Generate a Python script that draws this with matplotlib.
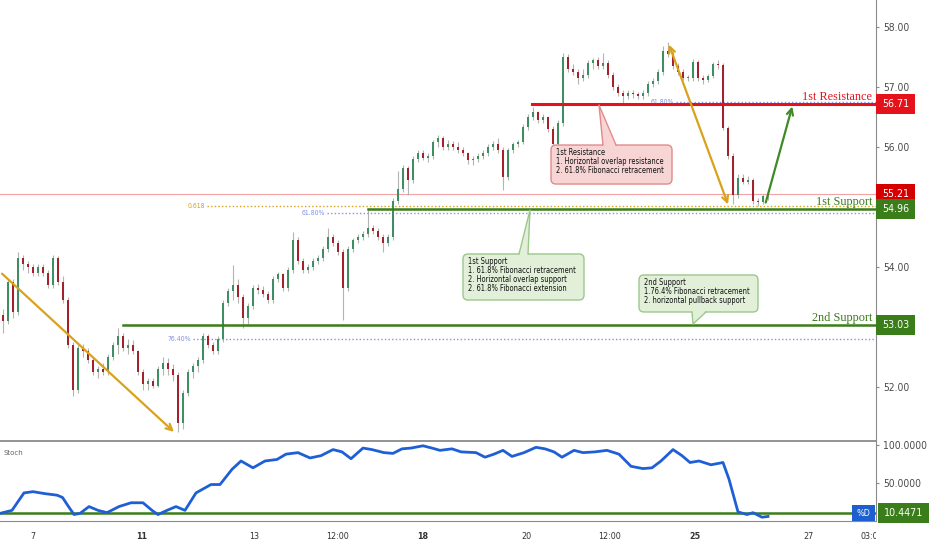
"""Hourly candles with support/resistance levels and a Stoch sub-panel.

Output: out.png (932x550)
"""

import numpy as np
import matplotlib

matplotlib.use("Agg")
import matplotlib.pyplot as plt
import matplotlib.font_manager as fm
from matplotlib.patches import Rectangle, FancyBboxPatch, Polygon
from matplotlib.transforms import Bbox, TransformedBbox

# ---- candles (one per slot, left to right) ----
opens = [53.20, 53.10, 53.75, 53.25, 54.15, 54.05, 54.00, 53.90, 54.00, 53.90,
         53.70, 54.15, 53.75, 53.45, 52.70, 51.95, 52.65, 52.60, 52.45, 52.25,
         52.30, 52.25, 52.50, 52.70, 52.85, 52.65, 52.70, 52.60, 52.25, 52.05,
         52.10, 52.02, 52.30, 52.40, 52.30, 52.20, 51.40, 51.90, 52.25, 52.35,
         52.45, 52.85, 52.70, 52.60, 52.80, 53.40, 53.60, 53.70, 53.50, 53.15,
         53.35, 53.65, 53.62, 53.55, 53.45, 53.80, 53.88, 53.65, 53.95, 54.45,
         54.10, 53.95, 54.00, 54.10, 54.15, 54.30, 54.50, 54.40, 54.25, 53.65,
         54.30, 54.45, 54.50, 54.55, 54.65, 54.60, 54.50, 54.40, 54.50, 55.10,
         55.30, 55.65, 55.45, 55.80, 55.90, 55.82, 55.85, 56.08, 56.15, 56.00,
         56.05, 56.00, 55.95, 55.90, 55.78, 55.80, 55.85, 55.90, 56.00, 56.05,
         55.95, 55.50, 55.95, 56.05, 56.08, 56.33, 56.50, 56.58, 56.45, 56.50,
         56.30, 56.05, 56.40, 57.50, 57.30, 57.25, 57.15, 57.20, 57.40, 57.45,
         57.35, 57.40, 57.20, 57.00, 56.90, 56.85, 56.90, 56.88, 56.85, 56.90,
         57.05, 57.10, 57.25, 57.60, 57.55, 57.35, 57.25, 57.15, 57.15, 57.42,
         57.15, 57.12, 57.18, 57.38, 57.37, 56.32, 55.85, 55.20, 55.48, 55.42,
         55.45, 55.10, 55.08, 55.18]
highs = [53.30, 53.80, 53.80, 54.25, 54.20, 54.10, 54.05, 54.05, 54.05, 53.95,
         54.20, 54.18, 53.85, 53.50, 52.75, 52.70, 52.72, 52.65, 52.50, 52.35,
         52.40, 52.55, 52.75, 52.98, 52.90, 52.80, 52.78, 52.62, 52.30, 52.15,
         52.15, 52.35, 52.50, 52.48, 52.38, 52.25, 51.95, 52.30, 52.40, 52.50,
         52.90, 52.88, 52.75, 52.85, 53.45, 53.65, 54.03, 53.80, 53.55, 53.40,
         53.70, 53.72, 53.68, 53.60, 53.85, 53.92, 53.90, 54.00, 54.58, 54.50,
         54.15, 54.05, 54.15, 54.20, 54.35, 54.65, 54.55, 54.45, 54.30, 54.35,
         54.48, 54.55, 54.60, 54.98, 54.70, 54.65, 54.55, 54.55, 55.15, 55.60,
         55.70, 55.68, 55.85, 55.95, 55.95, 55.90, 56.12, 56.20, 56.18, 56.12,
         56.10, 56.08, 56.00, 55.92, 55.85, 55.90, 55.95, 56.05, 56.10, 56.15,
         56.00, 55.98, 56.08, 56.12, 56.38, 56.55, 56.67, 56.60, 56.55, 56.52,
         56.35, 56.45, 57.57, 57.55, 57.38, 57.30, 57.30, 57.45, 57.48, 57.50,
         57.57, 57.45, 57.25, 57.05, 56.95, 56.95, 56.95, 56.92, 56.95, 57.10,
         57.15, 57.30, 57.68, 57.75, 57.60, 57.40, 57.30, 57.20, 57.47, 57.45,
         57.20, 57.22, 57.42, 57.45, 57.40, 56.35, 55.90, 55.55, 55.55, 55.52,
         55.48, 55.15, 55.22, 55.28]
lows = [52.90, 53.05, 53.15, 53.20, 53.95, 53.90, 53.85, 53.85, 53.85, 53.65,
        53.65, 53.70, 53.40, 52.65, 51.85, 51.90, 52.50, 52.40, 52.20, 52.15,
        52.20, 52.20, 52.45, 52.55, 52.60, 52.55, 52.55, 52.20, 51.95, 51.95,
        51.98, 52.00, 52.20, 52.20, 52.10, 51.25, 51.30, 51.85, 52.15, 52.25,
        52.40, 52.65, 52.55, 52.55, 52.75, 53.35, 53.45, 53.40, 52.98, 53.05,
        53.30, 53.55, 53.50, 53.40, 53.40, 53.75, 53.60, 53.60, 53.90, 54.05,
        53.90, 53.90, 53.95, 54.05, 54.10, 54.25, 54.35, 54.20, 53.12, 53.60,
        54.25, 54.40, 54.45, 54.50, 54.55, 54.45, 54.25, 54.35, 54.45, 55.05,
        55.25, 55.20, 55.40, 55.75, 55.78, 55.75, 55.80, 56.00, 55.95, 55.95,
        55.95, 55.90, 55.85, 55.72, 55.70, 55.75, 55.80, 55.85, 55.95, 55.90,
        55.28, 55.45, 55.90, 56.00, 56.05, 56.28, 56.45, 56.40, 56.40, 56.25,
        55.90, 55.98, 56.35, 57.25, 57.20, 57.05, 57.10, 57.15, 57.30, 57.30,
        57.30, 57.15, 56.95, 56.85, 56.70, 56.80, 56.82, 56.80, 56.80, 56.85,
        57.00, 57.05, 57.20, 57.50, 57.30, 57.20, 57.12, 57.10, 57.10, 57.10,
        57.05, 57.08, 57.15, 57.30, 56.28, 55.80, 55.05, 55.15, 55.38, 55.38,
        55.05, 55.02, 55.05, 55.12]
closes = [53.10, 53.75, 53.25, 54.15, 54.05, 54.00, 53.90, 54.00, 53.90, 53.70,
          54.15, 53.75, 53.45, 52.70, 51.95, 52.65, 52.60, 52.45, 52.25, 52.30,
          52.25, 52.50, 52.70, 52.85, 52.65, 52.70, 52.60, 52.25, 52.05, 52.10,
          52.02, 52.30, 52.40, 52.30, 52.20, 51.40, 51.90, 52.25, 52.35, 52.45,
          52.85, 52.70, 52.60, 52.80, 53.40, 53.60, 53.70, 53.50, 53.15, 53.35,
          53.65, 53.62, 53.55, 53.45, 53.80, 53.88, 53.65, 53.95, 54.45, 54.10,
          53.95, 54.00, 54.10, 54.15, 54.30, 54.50, 54.40, 54.25, 53.65, 54.30,
          54.45, 54.50, 54.55, 54.65, 54.60, 54.50, 54.40, 54.50, 55.10, 55.30,
          55.65, 55.45, 55.80, 55.90, 55.82, 55.85, 56.08, 56.15, 56.00, 56.05,
          56.00, 55.95, 55.90, 55.78, 55.80, 55.85, 55.90, 56.00, 56.05, 55.95,
          55.50, 55.95, 56.05, 56.08, 56.33, 56.50, 56.58, 56.45, 56.50, 56.30,
          56.05, 56.40, 57.50, 57.30, 57.25, 57.15, 57.20, 57.40, 57.45, 57.35,
          57.40, 57.20, 57.00, 56.90, 56.85, 56.90, 56.88, 56.85, 56.90, 57.05,
          57.10, 57.25, 57.60, 57.55, 57.35, 57.25, 57.15, 57.15, 57.42, 57.15,
          57.12, 57.18, 57.38, 57.37, 56.32, 55.85, 55.20, 55.48, 55.42, 55.45,
          55.10, 55.08, 55.18, 55.21]

# ---- stochastic %D (slot position, value) ----
stoch_x = [-0.6, 1.8, 4.2, 6.0, 8.4, 10.8, 11.9, 13.0, 14.2, 15.4, 17.2, 19.0,
           20.8, 23.2, 25.6, 28.0, 29.8, 31.0, 32.8, 34.6, 36.4, 38.6, 41.6,
           43.4, 45.8, 47.6, 50.0, 52.4, 54.8, 56.6, 59.0, 61.4, 63.6, 66.0,
           67.8, 69.6, 72.0, 73.8, 76.2, 78.0, 79.8, 81.6, 84.0, 85.8, 87.4,
           89.8, 91.6, 94.6, 96.4, 98.2, 100.0, 101.8, 104.2, 106.6, 108.4,
           110.2, 111.8, 114.2, 116.0, 118.4, 120.8, 123.2, 125.6, 128.0, 129.8,
           131.6, 134.0, 135.8, 137.4, 139.2, 141.6, 144.0, 145.2, 147.0, 148.8,
           150.0, 151.8, 153.0]
stoch_vals = [10, 14, 37, 38.6, 36, 34, 31, 20, 8.5, 10, 19, 14, 11, 19, 24, 24,
              14, 8.5, 14, 19, 14, 37, 48, 48, 68, 79, 70, 79, 81, 88, 90, 83,
              86, 94, 91, 82, 96, 94, 90, 89, 95, 96, 99, 96, 93, 95, 91, 90, 84,
              88, 93, 85, 90, 97, 95, 91, 84, 93, 90, 91, 93, 88, 72, 69, 70, 79,
              94, 86, 77, 79, 74, 77, 55, 12, 8.5, 11, 5, 6]
stoch_last = 10.4471

# ---- time axis ----
tick_pos = [6.0, 27.8, 50.2, 67.0, 84.0, 104.6, 121.4, 138.4, 161.0]
tick_labels = ["7", "11", "13", "12:00", "18", "20", "12:00", "25", "27"]
bold_labels = ["11", "18", "25"]
edge_label, edge_pos = "03:00", 173.8

# 53.00 and 55.00 sit under the level boxes, so they are not listed
price_ticks = [52, 54, 56, 57, 58]
stoch_ticks = [50, 100]

# ---- levels ----
res1, sup1, sup2, last_price = 56.71, 54.96, 53.03, 55.21
level_names = ["1st Resistance", "1st Support", "2nd Support"]
level_vals = [res1, sup1, sup2]
level_start = [105.8, 73.0, 24.0]

fib_vals = [55.02, 54.90, 52.80, 56.75]
fib_labels = ["0.618", "61.80%", "76.40%", "61.80%"]
fib_start = [40.8, 64.8, 38.0, 134.6]

res_note = ["1st Resistance", "1. Horizontal overlap resistance",
            "2. 61.8% Fibonacci retracement"]
sup1_note = ["1st Support", "1. 61.8% Fibonacci retracement",
             "2. Horizontal overlap support", "2. 61.8% Fibonacci extension"]
sup2_note = ["2nd Support", "1.76.4% Fibonacci retracement",
             "2. horizontal pullback support"]

# ---- style ----
UP, DOWN, WICK = "#3f8d62", "#a3202d", "#b4b4b4"
RED, RED2, GREEN = "#e3121b", "#d40000", "#3b7d1b"
GOLD, FIBBLUE, BLUE = "#d8a21c", "#8493e6", "#1f5fd6"
AXC, TXT = "#8a8a8a", "#4a4a4a"

names = {f.name for f in fm.fontManager.ttflist}
if "Liberation Sans Narrow" in names:
    NARROW, K = {"family": "Liberation Sans Narrow"}, 1.0
elif any(f.name == "DejaVu Sans" and f.stretch == "condensed"
         for f in fm.fontManager.ttflist):
    NARROW, K = {"family": "DejaVu Sans", "stretch": "condensed"}, 0.8
else:
    NARROW, K = {"family": "DejaVu Sans"}, 0.72
SERIF = "Liberation Serif" if "Liberation Serif" in names else "DejaVu Serif"

W, H = 932, 550


def frac(x0, y0, x1, y1):
    return [x0 / W, 1 - y1 / H, (x1 - x0) / W, (y1 - y0) / H]


fig = plt.figure(figsize=(W / 100, H / 100), dpi=100)
ax = fig.add_axes(frac(0, 0, 876, 441))
axs = fig.add_axes(frac(0, 442, 876, 521), sharex=ax)
XMIN, XMAX = -0.6, 174.6
ax.set_xlim(XMIN, XMAX)
ax.set_ylim(51.1, 58.45)
axs.set_ylim(0, 104)

# candles
o, h, l, c = map(np.asarray, (opens, highs, lows, closes))
idx = np.arange(len(c))
up = c >= o
ax.vlines(idx, l, h, color=WICK, lw=0.8, zorder=2)
body = np.maximum(np.abs(c - o), 0.015)
ax.bar(idx[up], body[up], bottom=o[up], width=0.55, color=UP, lw=0, zorder=3)
ax.bar(idx[~up], body[~up], bottom=c[~up], width=0.55, color=DOWN, lw=0, zorder=3)

# last price line
ax.plot([XMIN, XMAX], [last_price, last_price], color="#f2a3a3", lw=0.8, zorder=1.5)

# fibonacci dotted levels
fib_cols = [GOLD, FIBBLUE, FIBBLUE, FIBBLUE]
for v, lab, x0, col in zip(fib_vals, fib_labels, fib_start, fib_cols):
    ax.plot([x0, XMAX], [v, v], color=col, lw=1.0, ls=(0, (1, 1.6)), zorder=2.2)
    ax.text(x0 - 0.3, v, lab, ha="right", va="center", color=col,
            fontsize=6.2 * K, zorder=2.2, **NARROW)

# support / resistance lines + names
for name, v, x0 in zip(level_names, level_vals, level_start):
    col = RED if v == res1 else GREEN
    ax.plot([x0, XMAX], [v, v], color=col, lw=2.2 if v == res1 else 1.8, zorder=4)
    ax.text(0.9954, v + 0.02, name, transform=ax.get_yaxis_transform(),
            ha="right", va="bottom", color=col, fontsize=8.8, family=SERIF, zorder=4)

# arrows
arrow_kw = dict(xycoords="data", annotation_clip=False)
ax.annotate("", xy=(34.6, 51.22), xytext=(-0.6, 53.92),
            arrowprops=dict(arrowstyle="->", color=GOLD, lw=1.6, mutation_scale=11),
            zorder=5, **arrow_kw)
ax.annotate("", xy=(133.0, 57.75), xytext=(145.2, 55.0),
            arrowprops=dict(arrowstyle="<->", color=GOLD, lw=1.6, mutation_scale=11),
            zorder=5, **arrow_kw)
ax.annotate("", xy=(158.0, 56.72), xytext=(152.4, 55.03),
            arrowprops=dict(arrowstyle="->", color="#3f8a24", lw=1.6, mutation_scale=11),
            zorder=5, **arrow_kw)


def callout(box, tip, base_x, base_y, lines, face, edge):
    x0, x1, y0, y1 = box
    ax.add_patch(FancyBboxPatch((x0, y0), x1 - x0, y1 - y0,
                                boxstyle="round,pad=0,rounding_size=1.0",
                                mutation_aspect=5 / 60, fc=face, ec=edge,
                                lw=1.0, zorder=6))
    inside = -0.025 if base_y == y1 else 0.025
    ax.add_patch(Polygon([(base_x[0], base_y + inside), tip, (base_x[1], base_y + inside)],
                         closed=True, fc=face, ec="none", zorder=6.2))
    ax.plot([base_x[0], tip[0], base_x[1]], [base_y, tip[1], base_y],
            color=edge, lw=1.0, zorder=6.3)
    ax.text(x0 + 1.0, y1 - 0.05, "\n".join(lines), ha="left", va="top",
            fontsize=6.8 * K, linespacing=0.98, color="#111111", zorder=7, **NARROW)


callout((109.6, 133.8, 55.383, 56.033), (119.2, 56.70), (120.0, 122.6), 56.033,
        res_note, "#f8d5d5", "#e28a8a")
callout((92.0, 116.2, 53.45, 54.217), (105.4, 54.95), (103.2, 105.0), 54.217,
        sup1_note, "#e2f0da", "#9cc88a")
callout((127.2, 151.0, 53.25, 53.867), (138.0, 53.05), (137.8, 140.6), 53.25,
        sup2_note, "#e2f0da", "#9cc88a")

# price boxes on the right axis
ytr = ax.get_yaxis_transform()
boxes = [(res1, RED), (last_price, RED2), (sup1, GREEN), (sup2, GREEN)]
for k, (v, col) in enumerate(boxes):
    ax.add_patch(Rectangle((1.0, v - 0.167), 39 / 876, 0.333, transform=ytr,
                           fc=col, ec="none", clip_on=False, zorder=10 + k))
    ax.text(1.0 + 19.5 / 876, v, f"{v:.2f}", transform=ytr, ha="center",
            va="center", color="white", fontsize=9.6 * K, clip_on=False,
            zorder=10.5 + k, **NARROW)

# stochastic panel
axs.plot(stoch_x, stoch_vals, color=BLUE, lw=2.0, zorder=3, solid_joinstyle="round")
axs.axhline(stoch_last, color=GREEN, lw=1.8, zorder=2)
str_ = axs.get_yaxis_transform()
axs.add_patch(Rectangle((852 / 876, stoch_last - 10), 23 / 876, 20, transform=str_,
                        fc="#1e5fd0", ec="none", zorder=5))
axs.text(863.5 / 876, stoch_last, "%D", transform=str_, ha="center", va="center",
         color="white", fontsize=8 * K, zorder=6, **NARROW)
axs.add_patch(Rectangle((1.0023, stoch_last - 13), 51 / 876, 26, transform=str_,
                        fc=GREEN, ec="none", clip_on=False, zorder=5))
axs.text(1.0023 + 25.5 / 876, stoch_last, f"{stoch_last:.4f}", transform=str_,
         ha="center", va="center", color="white", fontsize=9.6 * K, clip_on=False,
         zorder=6, **NARROW)
axs.text(0.004, 0.84, "Stoch", transform=axs.transAxes, fontsize=5, color="#666666")

# axes cosmetics
for a in (ax, axs):
    for s in ("left", "top"):
        a.spines[s].set_visible(False)
    a.spines["right"].set_color(AXC)
    a.spines["bottom"].set_color(AXC)
    a.yaxis.tick_right()
    a.tick_params(axis="y", length=2.5, width=0.8, color=AXC, pad=2.5,
                  labelcolor=TXT)
ax.spines["bottom"].set_linewidth(1.3)

ax.set_yticks(price_ticks, [f"{v:.2f}" for v in price_ticks])
axs.set_yticks(stoch_ticks, [f"{v:.4f}" for v in stoch_ticks])
for lbl in ax.get_yticklabels() + axs.get_yticklabels():
    lbl.set_fontsize(9.2 * K)
    lbl.set_family(NARROW["family"])
    if "stretch" in NARROW:
        lbl.set_stretch(NARROW["stretch"])

ax.tick_params(axis="x", bottom=False, labelbottom=False)
axs.set_xticks(tick_pos, tick_labels)
axs.tick_params(axis="x", length=0, pad=8, labelcolor="#333333")
for lbl in axs.get_xticklabels():
    lbl.set_fontsize(8 * K)
    lbl.set_family(NARROW["family"])
    if "stretch" in NARROW:
        lbl.set_stretch(NARROW["stretch"])
    if lbl.get_text() in bold_labels:
        lbl.set_fontweight("bold")

# last time label, cut by the price scale like in the terminal
t = axs.text(edge_pos, -0.2, edge_label, transform=axs.get_xaxis_transform(),
             ha="center", va="center", color="#333333", fontsize=8 * K, **NARROW)
t.set_clip_box(TransformedBbox(Bbox([[0, -1], [1, 1]]), axs.transAxes))
t.set_clip_on(True)

fig.savefig("out.png", dpi=100, facecolor="white")
